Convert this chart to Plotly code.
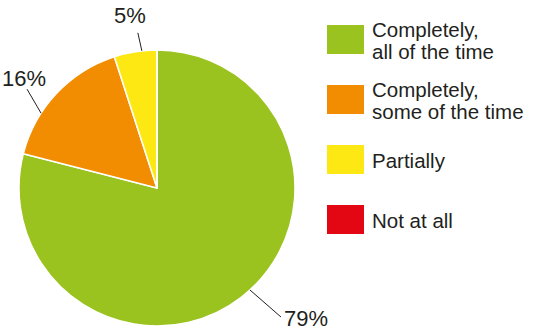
import math
import plotly.graph_objects as go

# Survey answers and their shares (%)
categories = ["Completely,<br>all of the time", "Completely,<br>some of the time", "Partially", "Not at all"]
shares = [79, 16, 5, 0]
colors = ["#9BC31F", "#F28C00", "#FEE814", "#E30613"]

W, H = 534, 334
CX, CY, R = 157, 188, 138  # pie centre and radius in pixels
TEXT = "#231F20"
FONT = "Liberation Sans, Arial, Helvetica, sans-serif"

def px(x):
    return x / W

def py(y):
    return 1 - y / H

fig = go.Figure(go.Pie(
    labels=[c.replace("<br>", " ") for c in categories],
    values=shares,
    marker=dict(colors=colors, line=dict(color="white", width=1.5)),
    sort=False,
    direction="clockwise",
    rotation=0,
    textinfo="none",
    hoverinfo="label+percent",
    showlegend=False,
    domain=dict(x=[px(CX - R), px(CX + R)], y=[py(CY + R), py(CY - R)]),
))

# Outside value labels with leader lines: where along each slice the line
# touches the rim, and the offsets (px) of the line end and the text centre.
label_frac = [0.484, 0.32, 0.65]
line_end = [(31, 27), (-14, -24), (-4, -18)]
text_off = [(56, 29), (-17, -35), (-12, -35)]

shapes, annotations = [], []
total = sum(shares)
start = 0.0
for i, v in enumerate(shares):
    if v <= 0:
        continue
    ang = (start + v * label_frac[i]) / total * 2 * math.pi
    start += v
    tx = CX + R * math.sin(ang)
    ty = CY - R * math.cos(ang)
    ex, ey = tx + line_end[i][0], ty + line_end[i][1]
    shapes.append(dict(type="line", xref="paper", yref="paper",
                       x0=px(tx), y0=py(ty), x1=px(ex), y1=py(ey),
                       line=dict(color=TEXT, width=1)))
    annotations.append(dict(xref="paper", yref="paper",
                            x=px(tx + text_off[i][0]), y=py(ty + text_off[i][1]),
                            text=f"{v}%", showarrow=False,
                            xanchor="center", yanchor="middle",
                            font=dict(family=FONT, size=22, color=TEXT)))

# Legend: large square swatches with labels beside them
LX0, LX1, SW_H = 327, 364, 29
LEG_TOP, LEG_STEP, LINE_STEP = 25, 60, 22
for i, (cat, col) in enumerate(zip(categories, colors)):
    y0 = LEG_TOP + i * LEG_STEP
    shapes.append(dict(type="rect", xref="paper", yref="paper",
                       x0=px(LX0), x1=px(LX1), y0=py(y0), y1=py(y0 + SW_H),
                       fillcolor=col, line=dict(width=0)))
    lines = cat.split("<br>")
    mid = y0 + SW_H / 2
    for j, ln in enumerate(lines):
        yc = mid + (j - (len(lines) - 1) / 2) * LINE_STEP
        annotations.append(dict(xref="paper", yref="paper",
                                x=px(370), y=py(yc + 1),
                                text=ln, showarrow=False,
                                xanchor="left", yanchor="middle",
                                font=dict(family=FONT, size=20.5, color=TEXT)))

fig.update_layout(
    width=W, height=H,
    margin=dict(l=0, r=0, t=0, b=0),
    paper_bgcolor="white",
    plot_bgcolor="white",
    shapes=shapes,
    annotations=annotations,
)

fig.write_html("out.html")
